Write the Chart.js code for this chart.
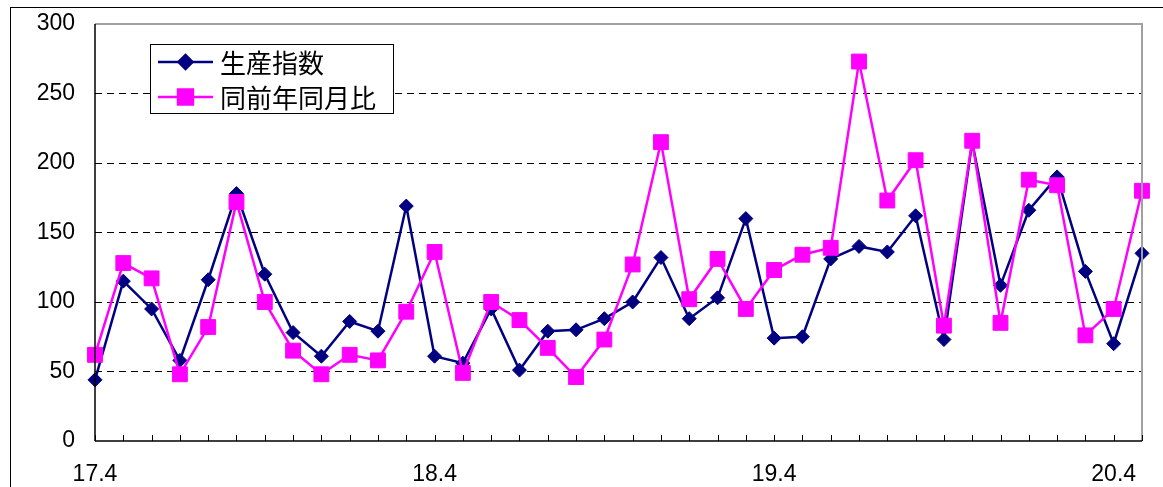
<!DOCTYPE html>
<html>
<head>
<meta charset="utf-8">
<script src="https://cdn.jsdelivr.net/npm/chart.js@4/dist/chart.umd.min.js"></script>
<style>
  html, body { margin: 0; padding: 0; background: #fff; }
  #wrap { width: 1163px; height: 487px; position: relative; }
</style>
</head>
<body>
<div id="wrap"><canvas id="chart"></canvas></div>
<script>
// 月 (年.月)
const months = [
  '17.4','17.5','17.6','17.7','17.8','17.9','17.10','17.11','17.12','18.1','18.2','18.3',
  '18.4','18.5','18.6','18.7','18.8','18.9','18.10','18.11','18.12','19.1','19.2','19.3',
  '19.4','19.5','19.6','19.7','19.8','19.9','19.10','19.11','19.12','20.1','20.2','20.3',
  '20.4','20.5'
];
const xTickLabels = ['17.4', '18.4', '19.4', '20.4'];
const yTicks = [0, 50, 100, 150, 200, 250, 300];

const seisanShisu = [
  44, 115, 95, 58, 116, 178, 120, 78, 61, 86, 79, 169,
  61, 56, 95, 51, 79, 80, 88, 100, 132, 88, 103, 160,
  74, 75, 131, 140, 136, 162, 73, 215, 112, 166, 190, 122,
  70, 135
];
const zennenHi = [
  62, 128, 117, 48, 82, 172, 100, 65, 48, 62, 58, 93,
  136, 49, 100, 87, 67, 46, 73, 127, 215, 102, 131, 95,
  123, 134, 139, 273, 173, 202, 83, 216, 85, 188, 184, 76,
  95, 180
];

const NAVY = '#000080';
const PINK = '#FF00FF';
const FONT = '"Liberation Sans", Arial, sans-serif';

// 外枠・プロット枠・内向き目盛り
const framePlugin = {
  id: 'frame',
  beforeDraw(chart) {
    const ctx = chart.ctx;
    ctx.save();
    ctx.fillStyle = '#fff';
    ctx.fillRect(0, 0, chart.width, chart.height);
    ctx.strokeStyle = '#000';
    ctx.lineWidth = 1;
    ctx.strokeRect(10.5, 7.5, chart.width + 20, chart.height + 20);
    ctx.restore();
  },
  afterDraw(chart) {
    const { ctx, chartArea: a } = chart;
    const xs = chart.scales.x;
    ctx.save();
    ctx.strokeStyle = '#a0a0a0';
    ctx.lineWidth = 2;
    ctx.beginPath();
    ctx.moveTo(a.left, a.top);
    ctx.lineTo(a.right, a.top);
    ctx.lineTo(a.right, a.bottom);
    ctx.stroke();
    ctx.strokeStyle = '#000';
    ctx.lineWidth = 1.5;
    ctx.beginPath();
    ctx.moveTo(a.left, a.bottom);
    ctx.lineTo(a.right, a.bottom);
    ctx.moveTo(a.left, a.top);
    ctx.lineTo(a.left, a.bottom);
    ctx.stroke();
    ctx.lineWidth = 1;
    months.forEach((m, i) => {
      const x = Math.round(xs.getPixelForValue(i)) + 0.5;
      ctx.beginPath();
      ctx.moveTo(x, a.bottom);
      ctx.lineTo(x, a.bottom - 6);
      ctx.stroke();
    });
    ctx.restore();
  }
};

// プロット内の凡例
const legendPlugin = {
  id: 'innerLegend',
  afterDraw(chart) {
    const ctx = chart.ctx;
    const box = { x: 150.5, y: 44.5, w: 243, h: 69 };
    ctx.save();
    ctx.fillStyle = '#fff';
    ctx.fillRect(box.x, box.y, box.w, box.h);
    ctx.strokeStyle = '#000';
    ctx.lineWidth = 1;
    ctx.strokeRect(box.x, box.y, box.w, box.h);
    chart.data.datasets.forEach((ds, i) => {
      const y = 62 + i * 35;
      ctx.strokeStyle = ds.borderColor;
      ctx.lineWidth = 2.5;
      ctx.beginPath();
      ctx.moveTo(158, y);
      ctx.lineTo(213, y);
      ctx.stroke();
      Chart.helpers.drawPoint(ctx, {
        pointStyle: ds.pointStyle,
        radius: ds.pointRadius,
        borderWidth: 1
      }, 185.5, y);
      ctx.fillStyle = ds.pointBackgroundColor;
      ctx.fill();
      ctx.fillStyle = '#000';
      ctx.font = '26px "Noto Sans CJK JP", sans-serif';
      ctx.textBaseline = 'middle';
      ctx.textAlign = 'left';
      ctx.fillText(ds.label, 220, y + 1);
    });
    ctx.restore();
  }
};

new Chart(document.getElementById('chart'), {
  type: 'line',
  data: {
    labels: months,
    datasets: [
      {
        label: '生産指数',
        data: seisanShisu,
        borderColor: NAVY,
        backgroundColor: NAVY,
        pointBackgroundColor: NAVY,
        pointBorderColor: NAVY,
        pointStyle: 'rectRot',
        pointRadius: 7,
        pointBorderWidth: 1,
        borderWidth: 2.5,
        tension: 0,
        clip: false,
        order: 1
      },
      {
        label: '同前年同月比',
        data: zennenHi,
        borderColor: PINK,
        backgroundColor: PINK,
        pointBackgroundColor: PINK,
        pointBorderColor: PINK,
        pointStyle: 'rect',
        pointRadius: 10.5,
        pointBorderWidth: 1,
        borderWidth: 2.5,
        tension: 0,
        clip: false,
        order: 0
      }
    ]
  },
  options: {
    responsive: true,
    maintainAspectRatio: false,
    animation: false,
    layout: { autoPadding: false, padding: { left: 0, top: 24, right: 21, bottom: 0 } },
    plugins: {
      legend: { display: false },
      tooltip: { enabled: false }
    },
    scales: {
      x: {
        type: 'category',
        offset: false,
        afterFit(scale) { scale.height = 46; },
        grid: { display: false, drawTicks: false },
        border: { display: false },
        ticks: {
          autoSkip: false,
          maxRotation: 0,
          padding: 20,
          color: '#000',
          font: { family: FONT, size: 23 },
          callback(v, i) {
            const m = months[i];
            return xTickLabels.includes(m) ? m : '';
          }
        }
      },
      y: {
        min: 0,
        max: 300,
        afterFit(scale) { scale.width = 95; },
        afterBuildTicks(scale) { scale.ticks = yTicks.map(v => ({ value: v })); },
        grid: {
          color: ctx => (ctx.tick && (ctx.tick.value === 0 || ctx.tick.value === 300)) ? 'rgba(0,0,0,0)' : '#000',
          lineWidth: 1,
          drawTicks: true,
          tickLength: 20,
          tickColor: 'rgba(0,0,0,0)'
        },
        border: { display: false, dash: [7, 5] },
        ticks: {
          padding: 0,
          color: '#000',
          font: { family: FONT, size: 23 }
        }
      }
    }
  },
  plugins: [framePlugin, legendPlugin]
});
</script>
</body>
</html>
